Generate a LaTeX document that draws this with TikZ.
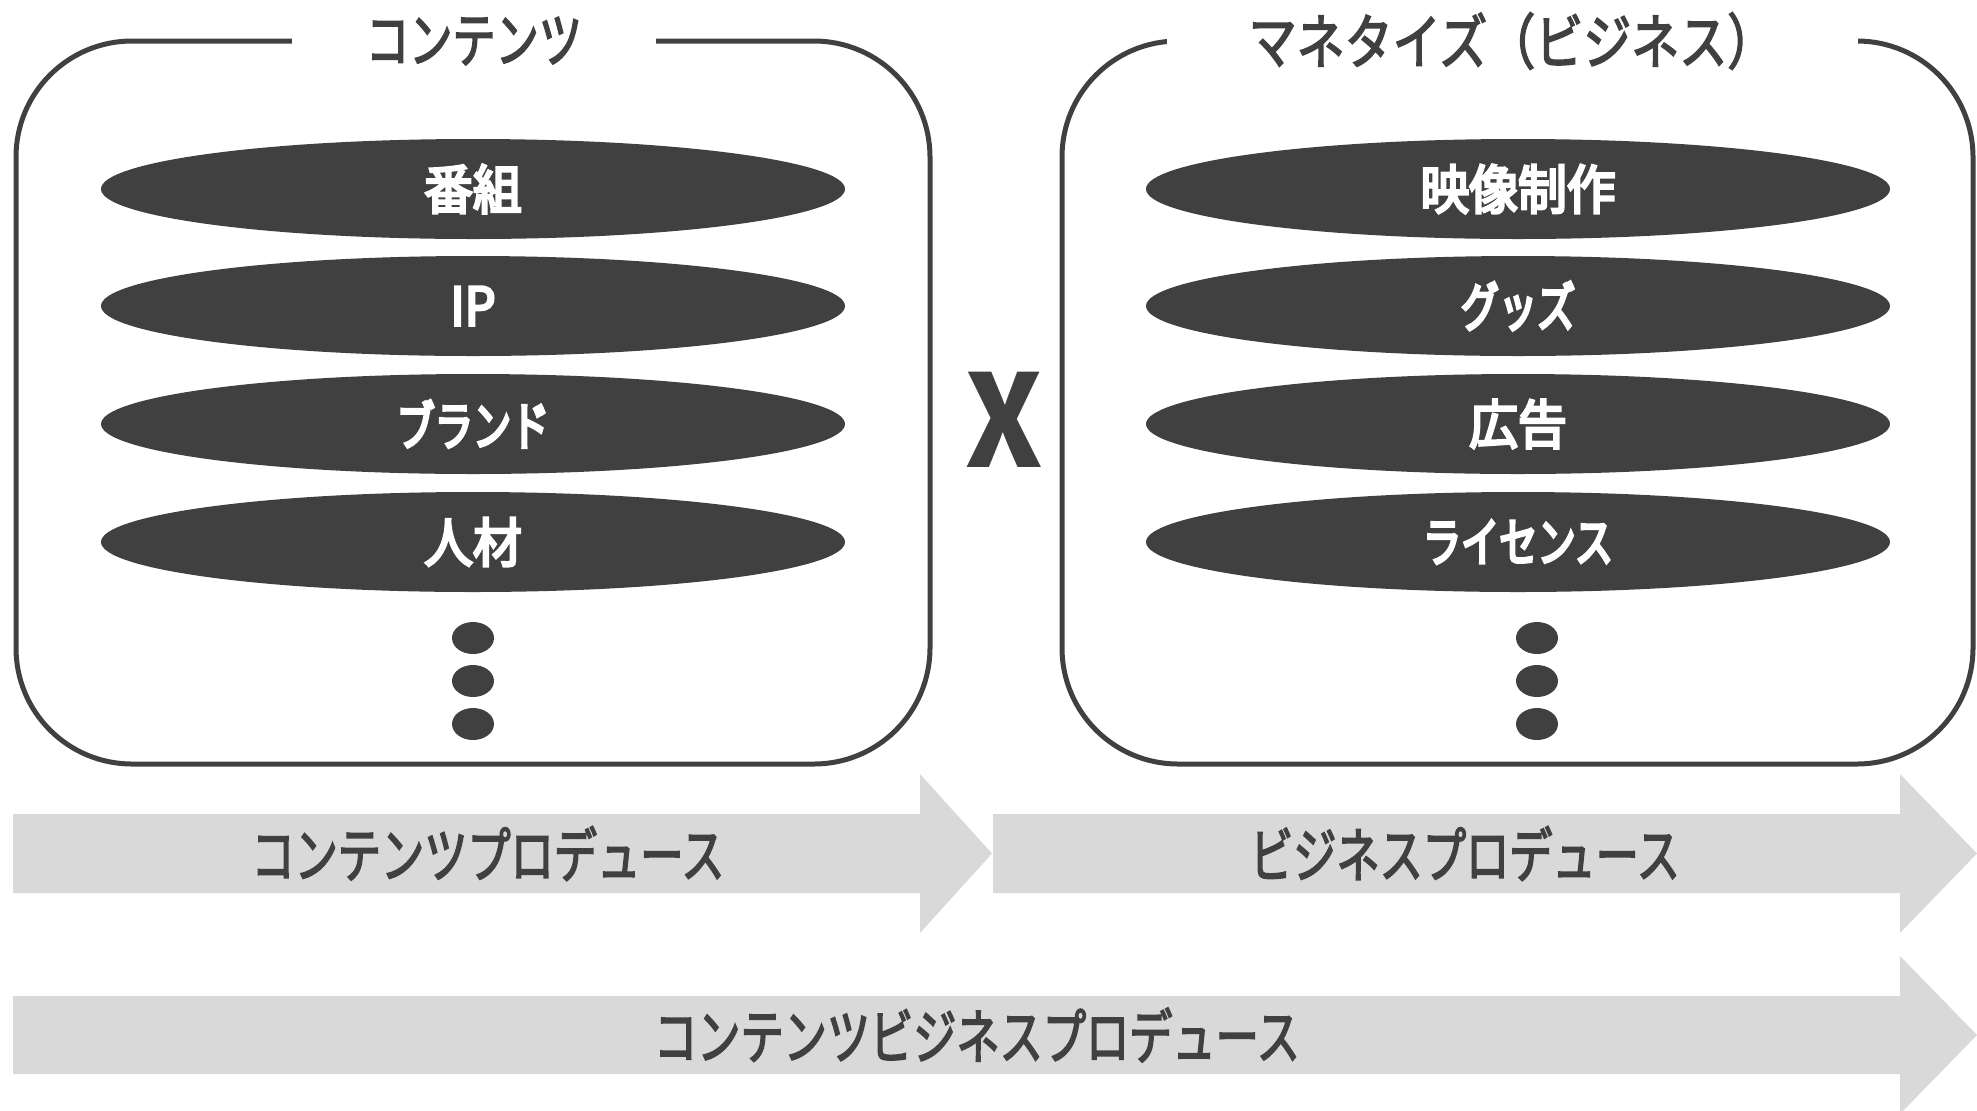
\documentclass[tikz,border=0pt]{standalone}
\usepackage{fontspec}
\newfontfamily\kana[FakeStretch=0.72,FakeBold=2.5]{Noto Sans CJK JP}
\newfontfamily\kanawide[FakeStretch=0.80,FakeBold=2.5]{Noto Sans CJK JP}
\newfontfamily\kanab[FakeStretch=0.72,FakeBold=5]{Noto Sans CJK JP}
\newfontfamily\kanjib[FakeStretch=0.92,FakeBold=5]{Noto Sans CJK JP}
\newfontfamily\kanji[FakeStretch=0.92]{Noto Sans CJK JP}
\usetikzlibrary{shapes.geometric}
\definecolor{dk}{HTML}{404040}
\definecolor{lg}{HTML}{D9D9D9}
\begin{document}
\begin{tikzpicture}[x=0.5pt,y=-0.5pt,
  frame/.style={draw=dk,line width=2.5pt,rounded corners=58pt},
  title/.style={fill=white,inner sep=0pt,minimum height=24pt,text=dk,font=\kana\fontsize{30pt}{36pt}\selectfont},
  pill/.style={ellipse,fill=dk,inner sep=0pt,minimum width=372pt,minimum height=50pt,text=white},
  kanalbl/.style={font=\kanab\fontsize{26.5pt}{32pt}\selectfont},
  kanjilbl/.style={font=\kanjib\fontsize{26.5pt}{32pt}\selectfont},
  dot/.style={ellipse,fill=dk,inner sep=0pt,minimum width=21pt,minimum height=16pt},
  band/.style={fill=lg},
  bandlbl/.style={text=dk,font=\kana\fontsize{30pt}{36pt}\selectfont}
]
\useasboundingbox (0,0) rectangle (1977,1110);
% frames
\draw[frame] (16,41) rectangle (930,764);
\draw[frame] (1062,41) rectangle (1973,764);
\node[title,minimum width=182pt] (t1) at (474,41) {コンテンツ};
\node[title,minimum width=345.5pt,font=\kanawide\fontsize{30pt}{36pt}\selectfont] (t2) at (1512,41) {マネタイズ（ビジネス）};
% left items
\node[pill,kanjilbl] (a1) at (473,189) {番組};
\node[pill,kanjilbl] (a2) at (473,306) {IP};
\node[pill,kanalbl] (a3) at (473,424) {ブランド};
\node[pill,kanjilbl] (a4) at (473,542) {人材};
\node[dot] (ad1) at (473,638) {};
\node[dot] (ad2) at (473,681) {};
\node[dot] (ad3) at (473,724) {};
% right items
\node[pill,kanjilbl] (b1) at (1518,189) {映像制作};
\node[pill,kanalbl] (b2) at (1518,306) {グッズ};
\node[pill,kanjilbl] (b3) at (1518,424) {広告};
\node[pill,kanalbl] (b4) at (1518,542) {ライセンス};
\node[dot] (bd1) at (1537,638) {};
\node[dot] (bd2) at (1537,681) {};
\node[dot] (bd3) at (1537,724) {};
% times
\node[text=dk,font=\kanji\bfseries\fontsize{64pt}{70pt}\selectfont] (x) at (1004,420) {X};
% arrows
\fill[band] (13,814) -- (920,814) -- (920,774) -- (992,853.5) -- (920,933) -- (920,893) -- (13,893) -- cycle;
\fill[band] (993,814) -- (1900,814) -- (1900,774) -- (1977,853.5) -- (1900,933) -- (1900,893) -- (993,893) -- cycle;
\fill[band] (13,996) -- (1900,996) -- (1900,956) -- (1977,1035) -- (1900,1114) -- (1900,1074) -- (13,1074) -- cycle;
\node[bandlbl] (p1) at (488,853.5) {コンテンツプロデュース};
\node[bandlbl] (p2) at (1465,853.5) {ビジネスプロデュース};
\node[bandlbl] (p3) at (977,1035) {コンテンツビジネスプロデュース};
\end{tikzpicture}
\end{document}
